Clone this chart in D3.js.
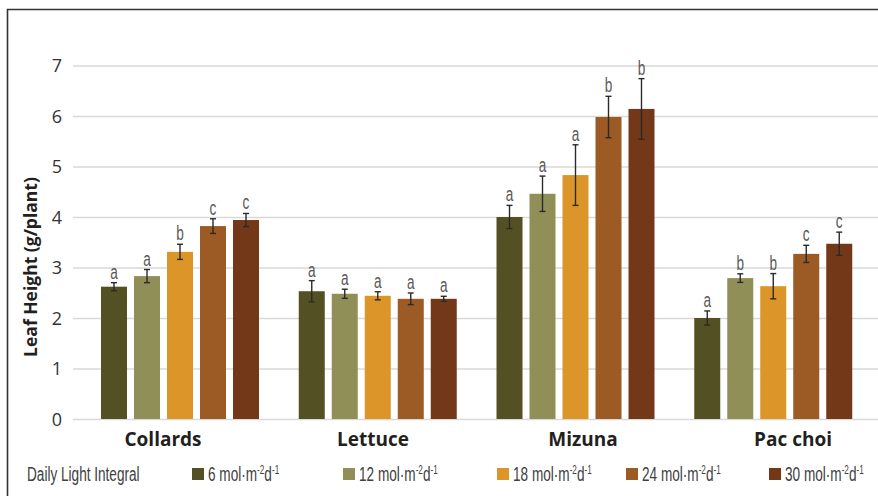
<!DOCTYPE html>
<html>
<head>
<meta charset="utf-8">
<script src="https://cdn.jsdelivr.net/npm/d3@7"></script>
<style>
  html, body { margin: 0; padding: 0; background: #fff; }
  svg { display: block; }
  .narrow { font-family: 'Liberation Sans', 'Open Sans', sans-serif; }
</style>
</head>
<body>
<svg id="chart" width="878" height="496"></svg>
<script>
// Leaf height per crop under five daily light integrals
const crops = ["Collards", "Lettuce", "Mizuna", "Pac choi"];
const dliLevels = ["6", "12", "18", "24", "30"];
const seriesColors = ["#535024", "#918f58", "#dc9529", "#9c5a25", "#733817"];

// means (g/plant), one array per crop, ordered by DLI level
const collardsMean = [2.62, 2.83, 3.31, 3.82, 3.94];
const lettuceMean  = [2.53, 2.48, 2.44, 2.38, 2.38];
const mizunaMean   = [4.00, 4.46, 4.83, 5.98, 6.14];
const pacchoiMean  = [2.00, 2.79, 2.63, 3.27, 3.47];

// standard errors
const collardsErr = [0.08, 0.13, 0.15, 0.145, 0.13];
const lettuceErr  = [0.21, 0.09, 0.08, 0.115, 0.05];
const mizunaErr   = [0.23, 0.35, 0.60, 0.41, 0.60];
const pacchoiErr  = [0.14, 0.085, 0.25, 0.17, 0.23];

// mean separation letters
const collardsSig = ["a", "a", "b", "c", "c"];
const lettuceSig  = ["a", "a", "a", "a", "a"];
const mizunaSig   = ["a", "a", "a", "b", "b"];
const pacchoiSig  = ["a", "b", "b", "c", "c"];

const yTicks = [0, 1, 2, 3, 4, 5, 6, 7];
const yTitle = "Leaf Height (g/plant)";
const legendTitle = "Daily Light Integral";

const means = [collardsMean, lettuceMean, mizunaMean, pacchoiMean];
const errs = [collardsErr, lettuceErr, mizunaErr, pacchoiErr];
const sigs = [collardsSig, lettuceSig, mizunaSig, pacchoiSig];

const rows = [];
crops.forEach((c, i) => dliLevels.forEach((d, j) => {
  rows.push({ crop: c, dli: d, value: means[i][j], err: errs[i][j], sig: sigs[i][j] });
}));

const svg = d3.select("#chart");
const W = 878, H = 496;
const NARROW = 0.68; // horizontal squeeze for condensed lettering

// frame (left and top edges visible)
svg.append("path")
  .attr("d", `M7.5,${H} L7.5,9.5 L${W},9.5`)
  .attr("fill", "none").attr("stroke", "#333").attr("stroke-width", 1.6);

const y = d3.scaleLinear().domain([0, 7]).range([419, 65.5]);
const x0 = d3.scaleBand().domain(crops).range([81, 872]);
const x1 = d3.scaleBand().domain(dliLevels).range([20, 178]).paddingInner(0.212);
const xLabel = d3.scalePoint().domain(crops).range([163, 793]);
const color = d3.scaleOrdinal().domain(dliLevels).range(seriesColors);

// gridlines + tick labels
const yAxis = d3.axisLeft(y).tickValues(yTicks).tickSize(-(W - 73)).tickPadding(11).tickFormat(d3.format("d"));
const ga = svg.append("g").attr("transform", "translate(73,0)").call(yAxis);
ga.select(".domain").remove();
ga.selectAll(".tick line").attr("stroke", "#d9d9d9").attr("stroke-width", 1.6);
ga.selectAll(".tick text")
  .attr("fill", "#333").attr("font-family", "'Open Sans', 'Noto Sans', sans-serif").attr("font-size", 18)
  .attr("dy", "0.36em");

// y title
svg.append("text")
  .attr("transform", "translate(37,267) rotate(-90)")
  .attr("text-anchor", "middle")
  .attr("font-family", "'Open Sans', 'Noto Sans', sans-serif")
  .attr("font-weight", "bold").attr("font-size", 17.5).attr("fill", "#231f20")
  .text(yTitle);

// bars
const groups = svg.append("g").selectAll("g").data(crops).join("g")
  .attr("transform", d => `translate(${x0(d)},0)`);

groups.selectAll("rect").data(c => rows.filter(r => r.crop === c)).join("rect")
  .attr("x", d => x1(d.dli))
  .attr("y", d => y(d.value))
  .attr("width", x1.bandwidth())
  .attr("height", d => y(0) - y(d.value))
  .attr("fill", d => color(d.dli));

// error bars
const eb = groups.selectAll("g.err").data(c => rows.filter(r => r.crop === c)).join("g")
  .attr("class", "err")
  .attr("stroke", "#2a2a2a").attr("stroke-width", 1.4);
eb.append("line")
  .attr("x1", d => x1(d.dli) + x1.bandwidth() / 2).attr("x2", d => x1(d.dli) + x1.bandwidth() / 2)
  .attr("y1", d => y(d.value + d.err)).attr("y2", d => y(d.value - d.err));
[1, -1].forEach(s => {
  eb.append("line")
    .attr("x1", d => x1(d.dli) + x1.bandwidth() / 2 - 3).attr("x2", d => x1(d.dli) + x1.bandwidth() / 2 + 3)
    .attr("y1", d => y(d.value + s * d.err)).attr("y2", d => y(d.value + s * d.err));
});

// significance letters (condensed)
groups.selectAll("text.sig").data(c => rows.filter(r => r.crop === c)).join("text")
  .attr("class", "sig narrow")
  .attr("transform", d => `translate(${x1(d.dli) + x1.bandwidth() / 2},${y(d.value + d.err) - 4}) scale(${NARROW},1)`)
  .attr("text-anchor", "middle")
  .attr("font-size", 20).attr("fill", "#5a5a5a")
  .text(d => d.sig);

// category labels
svg.append("g").selectAll("text").data(crops).join("text")
  .attr("x", d => xLabel(d)).attr("y", 446)
  .attr("text-anchor", "middle")
  .attr("font-family", "'Open Sans', 'Noto Sans', sans-serif")
  .attr("font-weight", "bold").attr("font-size", 19).attr("fill", "#231f20")
  .text(d => d);

// legend
const legendX = [192, 343, 497, 626, 769];
svg.append("text").attr("class", "narrow")
  .attr("transform", `translate(27,481) scale(${NARROW},1)`)
  .attr("font-size", 20).attr("fill", "#404040")
  .text(legendTitle);

const li = svg.append("g").selectAll("g").data(dliLevels).join("g")
  .attr("transform", (d, i) => `translate(${legendX[i]},468)`);
li.append("rect").attr("width", 12).attr("height", 12).attr("fill", d => color(d));
const lt = li.append("text").attr("class", "narrow")
  .attr("transform", `translate(16,13) scale(${NARROW},1)`)
  .attr("font-size", 20).attr("fill", "#404040");
lt.append("tspan").text(d => d + " mol\u00b7m");
lt.append("tspan").attr("font-size", 12).attr("dy", -7).text("-2");
lt.append("tspan").attr("dy", 7).text("d");
lt.append("tspan").attr("font-size", 12).attr("dy", -7).text("-1");
</script>
</body>
</html>
